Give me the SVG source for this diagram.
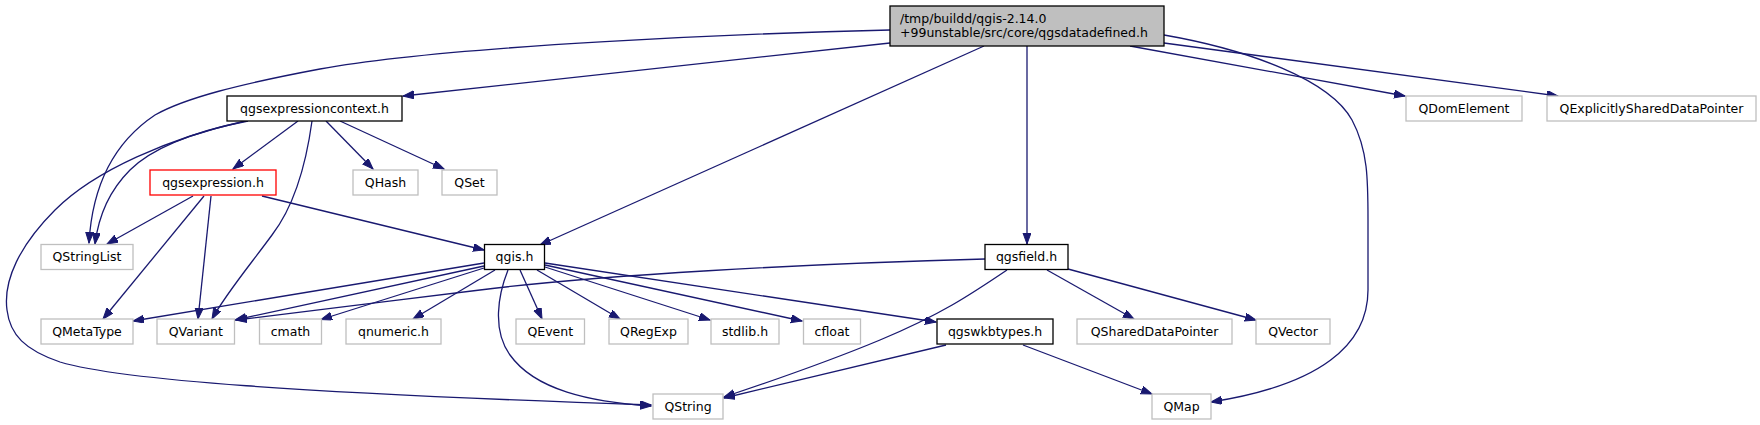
<svg xmlns="http://www.w3.org/2000/svg" width="1760" height="425" viewBox="0 0 1760 425">
<style>
  .n rect { fill: #ffffff; stroke: #bfbfbf; stroke-width: 1.3; }
  .n.doc rect { stroke: #000000; }
  .n.red rect { stroke: #ff0000; }
  .n.main rect { fill: #bfbfbf; stroke: #000000; }
  text { font-family: "DejaVu Sans", "Liberation Sans", sans-serif; font-size: 12.5px; fill: #000000; }
  .c { text-anchor: middle; }
  .e path { fill: none; stroke: #191970; stroke-width: 1.3; marker-end: url(#ah); }
</style>
<defs>
  <marker id="ah" markerUnits="userSpaceOnUse" markerWidth="12" markerHeight="9" refX="11" refY="4" orient="auto">
    <path d="M0,0 L11,4 L0,8 z" fill="#191970" stroke="#191970" stroke-width="1"/>
  </marker>
</defs>
<rect x="0" y="0" width="1760" height="425" fill="#ffffff"/>

<g id="edges" class="e">
  <path d="M890,43 L403,96"/>
  <path d="M890,30 C760,33 450,45 320,69 C240,84 185,98 155,115 C110,145 92,190 89,243"/>
  <path d="M984,46 L540,245"/>
  <path d="M1027,46 L1027,244"/>
  <path d="M1130,46 L1405,96"/>
  <path d="M1164,43 L1558,96"/>
  <path d="M1164,35 C1250,50 1330,80 1352,120 C1368,150 1368,180 1368,220 L1368,290 C1368,345 1320,385 1211,402"/>
  <path d="M298,121 L233,169"/>
  <path d="M326,121 L373,169"/>
  <path d="M340,121 L444,169"/>
  <path d="M312,121 C306,165 295,205 272,235 C250,265 225,295 212,319"/>
  <path d="M248,121 C190,132 150,150 130,170 C108,192 98,220 95,244"/>
  <path d="M245,121 C170,138 95,170 55,210 C20,245 3,280 7,310 C10,335 25,350 60,362 C120,380 300,393 651,405"/>
  <path d="M193,196 L107,244"/>
  <path d="M204,196 L103,319"/>
  <path d="M211,196 L198,319"/>
  <path d="M262,196 L484,250"/>
  <path d="M484,263 L133,321"/>
  <path d="M484,266 L235,320"/>
  <path d="M484,268 L321,319.5"/>
  <path d="M495,270 L413,319"/>
  <path d="M520,270 L542,319"/>
  <path d="M537,270 L620,319"/>
  <path d="M545,267 L710,320"/>
  <path d="M545,265 L802,321"/>
  <path d="M545,263 L936,322"/>
  <path d="M508,270 C498,295 492,330 510,355 C535,390 590,402 651,406"/>
  <path d="M985,259 C800,264 600,275 480,290 C400,300 300,312 236,320"/>
  <path d="M1007,270 C970,295 940,315 880,340 C820,365 760,385 724,397"/>
  <path d="M1047,270 L1134,319"/>
  <path d="M1068,269 L1256,320"/>
  <path d="M946,345 L724,398"/>
  <path d="M1023,345 L1152,394"/>
</g>

<g id="node-main" class="n main">
  <rect x="890" y="6" width="274" height="40"/>
  <text x="900" y="22.5">/tmp/buildd/qgis-2.14.0</text>
  <text x="900" y="37">+99unstable/src/core/qgsdatadefined.h</text>
</g>
<g id="node-qgsexpressioncontext" class="n doc">
  <rect x="227" y="96" width="175" height="25"/>
  <text class="c" x="314.5" y="112.8">qgsexpressioncontext.h</text>
</g>
<g id="node-qgsexpression" class="n red">
  <rect x="150" y="170" width="126" height="25"/>
  <text class="c" x="213" y="186.8">qgsexpression.h</text>
</g>
<g id="node-QHash" class="n">
  <rect x="353" y="170" width="65" height="25"/>
  <text class="c" x="385.5" y="186.8">QHash</text>
</g>
<g id="node-QSet" class="n">
  <rect x="442" y="170" width="55" height="25"/>
  <text class="c" x="469.5" y="186.8">QSet</text>
</g>
<g id="node-QDomElement" class="n">
  <rect x="1406" y="96" width="116" height="25"/>
  <text class="c" x="1464" y="112.8">QDomElement</text>
</g>
<g id="node-QExplicitlySharedDataPointer" class="n">
  <rect x="1547" y="96" width="209" height="25"/>
  <text class="c" x="1651.5" y="112.8">QExplicitlySharedDataPointer</text>
</g>
<g id="node-QStringList" class="n">
  <rect x="41" y="244.5" width="92" height="25"/>
  <text class="c" x="87" y="261.3">QStringList</text>
</g>
<g id="node-qgis" class="n doc">
  <rect x="484.5" y="244.5" width="60" height="25"/>
  <text class="c" x="514.5" y="261.3">qgis.h</text>
</g>
<g id="node-qgsfield" class="n doc">
  <rect x="985" y="244.5" width="83" height="25"/>
  <text class="c" x="1026.5" y="261.3">qgsfield.h</text>
</g>
<g id="node-QMetaType" class="n">
  <rect x="41" y="319" width="92" height="25"/>
  <text class="c" x="87" y="335.8">QMetaType</text>
</g>
<g id="node-QVariant" class="n">
  <rect x="157" y="319" width="77.5" height="25"/>
  <text class="c" x="195.75" y="335.8">QVariant</text>
</g>
<g id="node-cmath" class="n">
  <rect x="259.5" y="319" width="62" height="25"/>
  <text class="c" x="290.5" y="335.8">cmath</text>
</g>
<g id="node-qnumeric" class="n">
  <rect x="346" y="319" width="95" height="25"/>
  <text class="c" x="393.5" y="335.8">qnumeric.h</text>
</g>
<g id="node-QEvent" class="n">
  <rect x="516" y="319" width="68.5" height="25"/>
  <text class="c" x="550.25" y="335.8">QEvent</text>
</g>
<g id="node-QRegExp" class="n">
  <rect x="609" y="319" width="79" height="25"/>
  <text class="c" x="648.5" y="335.8">QRegExp</text>
</g>
<g id="node-stdlib" class="n">
  <rect x="711" y="319" width="68" height="25"/>
  <text class="c" x="745" y="335.8">stdlib.h</text>
</g>
<g id="node-cfloat" class="n">
  <rect x="803.5" y="319" width="57" height="25"/>
  <text class="c" x="832" y="335.8">cfloat</text>
</g>
<g id="node-qgswkbtypes" class="n doc">
  <rect x="937" y="319" width="116" height="25"/>
  <text class="c" x="995" y="335.8">qgswkbtypes.h</text>
</g>
<g id="node-QSharedDataPointer" class="n">
  <rect x="1077" y="319" width="155" height="25"/>
  <text class="c" x="1154.5" y="335.8">QSharedDataPointer</text>
</g>
<g id="node-QVector" class="n">
  <rect x="1256" y="319" width="74" height="25"/>
  <text class="c" x="1293" y="335.8">QVector</text>
</g>
<g id="node-QString" class="n">
  <rect x="653" y="394" width="70" height="25"/>
  <text class="c" x="688" y="410.8">QString</text>
</g>
<g id="node-QMap" class="n">
  <rect x="1152" y="394" width="59" height="25"/>
  <text class="c" x="1181.5" y="410.8">QMap</text>
</g>
</svg>
